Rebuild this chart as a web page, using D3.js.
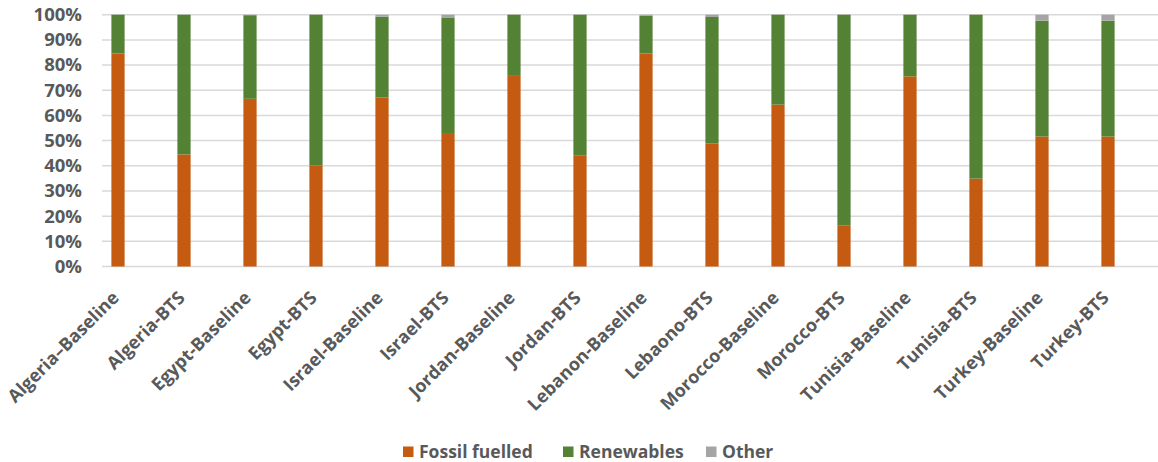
<!DOCTYPE html>
<html>
<head>
<meta charset="utf-8">
<script src="https://cdn.jsdelivr.net/npm/d3@7"></script>
<style>
  html, body { margin: 0; padding: 0; background: #fff; }
  svg { display: block; }
</style>
</head>
<body>
<svg id="chart" width="1158" height="462"></svg>
<script>
const categories = ["Algeria–Baseline","Algeria-BTS","Egypt-Baseline","Egypt-BTS","Israel-Baseline","Israel-BTS","Jordan-Baseline","Jordan-BTS","Lebanon-Baseline","Lebaono-BTS","Morocco-Baseline","Morocco-BTS","Tunisia-Baseline","Tunisia-BTS","Turkey-Baseline","Turkey-BTS"];
const fossil     = [84.6, 44.5, 66.6, 40.2, 67.1, 53.0, 75.7, 44.0, 84.6, 48.8, 64.3, 16.2, 75.5, 34.9, 51.6, 51.6];
const renewables = [15.4, 55.5, 33.2, 59.8, 32.1, 45.9, 24.3, 56.0, 15.0, 50.3, 35.7, 83.8, 24.5, 65.1, 46.0, 46.0];
const other      = [0.0, 0.0, 0.2, 0.0, 0.8, 1.1, 0.0, 0.0, 0.4, 0.9, 0.0, 0.0, 0.0, 0.0, 2.4, 2.4];
const seriesNames = ["Fossil fuelled", "Renewables", "Other"];
const yTicks = [0,10,20,30,40,50,60,70,80,90,100];

const colors = ["#C55A11", "#548235", "#A5A5A5"];
const FONT = "'Open Sans', sans-serif";
const textColor = "#595959";

const svg = d3.select("#chart");

const x = d3.scaleBand().domain(categories).range([85, 1141]).paddingInner(0.8).paddingOuter(0.4);
const y = d3.scaleLinear().domain([0, 100]).range([266.5, 14.7]);

// gridlines
svg.append("g").selectAll("line").data(yTicks).join("line")
  .attr("x1", 102).attr("x2", 1158)
  .attr("y1", d => y(d)).attr("y2", d => y(d))
  .attr("stroke", "#D9D9D9").attr("stroke-width", 1.5);

// y axis labels
const yAxis = d3.axisLeft(y).tickValues(yTicks).tickFormat(d => d + "%").tickSize(0).tickPadding(0);
const yg = svg.append("g").attr("transform", "translate(82,0)").call(yAxis);
yg.select(".domain").remove();
yg.selectAll("text").attr("font-family", FONT).attr("font-weight", "bold")
  .attr("font-size", "18.5px").attr("fill", textColor);

// stacked data
const rows = categories.map((c, i) => ({cat: c, s0: fossil[i], s1: renewables[i], s2: other[i]}));
const stack = d3.stack().keys(["s0", "s1", "s2"]);
const stacked = stack(rows);

svg.append("g").selectAll("g").data(stacked).join("g")
  .attr("fill", (d, i) => colors[i])
  .selectAll("rect").data(d => d).join("rect")
  .attr("x", d => x(d.data.cat))
  .attr("width", x.bandwidth())
  .attr("y", d => y(d[1]))
  .attr("height", d => Math.max(0, y(d[0]) - y(d[1])));

// x axis labels
const xAxis = d3.axisBottom(x).tickSize(0).tickPadding(0);
const xg = svg.append("g").call(xAxis);
xg.select(".domain").remove();
xg.selectAll(".tick").attr("transform", d => `translate(${x(d) + x.bandwidth() / 2 + 2},299)`);
xg.selectAll("text")
  .attr("font-family", FONT).attr("font-weight", "bold")
  .attr("font-size", "18px").attr("fill", textColor)
  .attr("text-anchor", "end")
  .attr("y", 0).attr("dy", 0)
  .attr("transform", "rotate(-45)");

// legend
const legendX = [403, 563, 706];
const lg = svg.append("g");
seriesNames.forEach((name, i) => {
  lg.append("rect").attr("x", legendX[i]).attr("y", 446.5).attr("width", 10.5).attr("height", 10.5).attr("fill", colors[i]);
  lg.append("text").attr("x", legendX[i] + 16).attr("y", 451.5).attr("dy", "0.36em")
    .attr("font-family", FONT).attr("font-weight", "bold").attr("font-size", "17.5px")
    .attr("fill", textColor).text(name);
});
</script>
</body>
</html>
